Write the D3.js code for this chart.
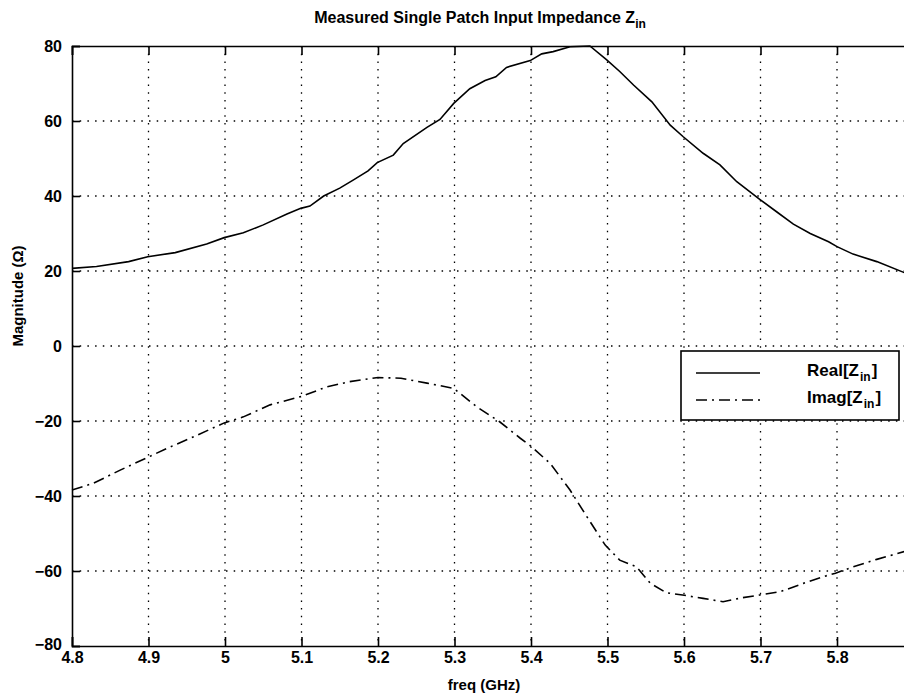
<!DOCTYPE html>
<html>
<head>
<meta charset="utf-8">
<script src="https://cdn.jsdelivr.net/npm/d3@7"></script>
<style>
  html, body { margin: 0; padding: 0; background: #fff; overflow: hidden; }
  svg { display: block; }
  text { font-family: "Liberation Sans", Arial, Helvetica, sans-serif; fill: #000; }
</style>
</head>
<body>
<svg id="chart" width="904" height="698"></svg>
<script>
// ---- data ----
const freqTicks = [4.8, 4.9, 5.0, 5.1, 5.2, 5.3, 5.4, 5.5, 5.6, 5.7, 5.8];
const magTicks = [-80, -60, -40, -20, 0, 20, 40, 60, 80];

const realFreq = [4.800, 4.832, 4.874, 4.899, 4.935, 4.976, 4.999, 5.024, 5.050, 5.081, 5.099, 5.111, 5.129, 5.150, 5.168, 5.187, 5.199, 5.220, 5.233, 5.264, 5.281, 5.299, 5.320, 5.340, 5.354, 5.368, 5.399, 5.414, 5.429, 5.451, 5.477, 5.499, 5.516, 5.534, 5.558, 5.582, 5.599, 5.625, 5.647, 5.669, 5.699, 5.721, 5.743, 5.765, 5.789, 5.800, 5.821, 5.852, 5.890];
const realVal  = [20.7, 21.2, 22.5, 23.8, 24.9, 27.2, 28.9, 30.2, 32.3, 35.2, 36.7, 37.3, 40.0, 42.1, 44.3, 46.7, 48.9, 50.9, 54.0, 58.3, 60.4, 64.7, 68.6, 70.8, 71.8, 74.3, 76.1, 77.9, 78.5, 79.8, 80.0, 76.3, 73.2, 69.6, 65.1, 58.9, 55.8, 51.4, 48.3, 43.8, 39.1, 35.8, 32.5, 30.0, 27.8, 26.5, 24.5, 22.5, 19.4];

const imagFreq = [4.800, 4.828, 4.863, 4.899, 4.924, 4.959, 4.999, 5.024, 5.059, 5.099, 5.133, 5.163, 5.200, 5.230, 5.264, 5.299, 5.329, 5.359, 5.386, 5.398, 5.425, 5.451, 5.473, 5.497, 5.516, 5.538, 5.556, 5.577, 5.598, 5.625, 5.651, 5.677, 5.699, 5.726, 5.756, 5.782, 5.798, 5.821, 5.852, 5.890];
const imagVal  = [-38.4, -36.6, -33.1, -29.7, -27.3, -24.2, -20.5, -18.9, -15.7, -13.5, -10.9, -9.5, -8.4, -8.6, -9.9, -11.3, -16.2, -20.2, -24.6, -26.4, -31.3, -38.4, -45.5, -53.1, -57.1, -58.9, -63.3, -65.8, -66.4, -67.3, -68.2, -67.1, -66.4, -65.5, -63.3, -61.5, -60.6, -58.9, -56.9, -54.7];

const titleText = "Measured Single Patch Input Impedance Z";
const xLabel = "freq (GHz)";
const yLabel = "Magnitude (\u03A9)";
const legendNames = ["Real[Z", "Imag[Z"];

// ---- layout ----
const svg = d3.select("#chart");
const L = 72, T = 46, B = 646;
const pxPerTenth = 76.5;
const x = d3.scaleLinear().domain([4.8, 5.9]).range([L, L + 11 * pxPerTenth]);
const y = d3.scaleLinear().domain([-80, 80]).range([B, T]);
const R = x(5.9);

const fmtX = d => d3.format("")(+d.toFixed(1));

// grid
const grid = svg.append("g").attr("stroke", "#000").attr("stroke-width", 1.3)
  .attr("stroke-dasharray", "1.5,6.2").attr("fill", "none");
grid.selectAll("line.v").data(freqTicks.filter(d => d > 4.8)).join("line")
  .attr("x1", d => x(d)).attr("x2", d => x(d)).attr("y1", T).attr("y2", B);
grid.selectAll("line.h").data(magTicks.filter(d => d > -80 && d < 80)).join("line")
  .attr("class", "h")
  .attr("x1", L).attr("x2", R).attr("y1", d => y(d)).attr("y2", d => y(d));

// axes
const axisFont = (g, s) => g.selectAll("text").attr("font-size", s).attr("font-weight", "bold")
  .style("font-family", '"Liberation Sans", Arial, sans-serif');

const gx = svg.append("g").attr("transform", `translate(0,${B})`)
  .call(d3.axisBottom(x).tickValues(freqTicks).tickFormat(fmtX).tickSize(-9).tickPadding(15));
gx.select(".domain").attr("stroke-width", 1.6);
gx.selectAll(".tick line").attr("stroke-width", 1.6);
axisFont(gx, 16);
gx.selectAll("text").attr("dy", "0.15em");

const gxt = svg.append("g").attr("transform", `translate(0,${T})`)
  .call(d3.axisTop(x).tickValues(freqTicks).tickFormat("").tickSize(-9));
gxt.select(".domain").attr("stroke-width", 1.6);
gxt.selectAll(".tick line").attr("stroke-width", 1.6);

const gy = svg.append("g").attr("transform", `translate(${L},0)`)
  .call(d3.axisLeft(y).tickValues(magTicks).tickSize(-8).tickPadding(10));
gy.select(".domain").attr("stroke-width", 1.6);
gy.selectAll(".tick line").attr("stroke-width", 1.6);
axisFont(gy, 16);
gy.selectAll(".tick").filter(d => d === -80).select("text").attr("dy", "0.2em");

// lines
const line = d3.line().x(d => x(d[0])).y(d => y(d[1])).curve(d3.curveLinear);
const realPts = realFreq.map((f, i) => [f, realVal[i]]);
const imagPts = imagFreq.map((f, i) => [f, imagVal[i]]);

svg.append("path").datum(realPts).attr("d", line)
  .attr("fill", "none").attr("stroke", "#000").attr("stroke-width", 1.6);
svg.append("path").datum(imagPts).attr("d", line)
  .attr("fill", "none").attr("stroke", "#000").attr("stroke-width", 1.6)
  .attr("stroke-dasharray", "11,5,2,5");

// title
const title = svg.append("text").attr("x", 480).attr("y", 23).attr("text-anchor", "middle")
  .attr("font-size", 16).attr("font-weight", "bold");
title.append("tspan").text(titleText);
title.append("tspan").attr("font-size", 12).attr("dy", 5).text("in");

// axis labels
svg.append("text").attr("x", 484).attr("y", 690).attr("text-anchor", "middle")
  .attr("font-size", 15).attr("font-weight", "bold").text(xLabel);
svg.append("text").attr("transform", "translate(23,296) rotate(-90)").attr("text-anchor", "middle")
  .attr("font-size", 15).attr("font-weight", "bold").text(yLabel);

// legend
const lg = svg.append("g");
lg.append("rect").attr("x", 681).attr("y", 351).attr("width", 218).attr("height", 69)
  .attr("fill", "#fff").attr("stroke", "#000").attr("stroke-width", 1.6);
const legendStyles = [null, "11,5,2,5"];
legendNames.forEach((name, i) => {
  const ly = 373 + i * 27;
  lg.append("line").attr("x1", 696).attr("x2", 760).attr("y1", ly).attr("y2", ly)
    .attr("stroke", "#000").attr("stroke-width", 1.6)
    .attr("stroke-dasharray", legendStyles[i]);
  const t = lg.append("text").attr("x", 807).attr("y", ly + 3).attr("font-size", 17).attr("font-weight", "bold");
  t.append("tspan").text(name);
  t.append("tspan").attr("font-size", 12).attr("dy", 5).attr("dx", 1).text("in");
  t.append("tspan").attr("dy", -5).attr("dx", 1).text("]");
});
</script>
</body>
</html>
